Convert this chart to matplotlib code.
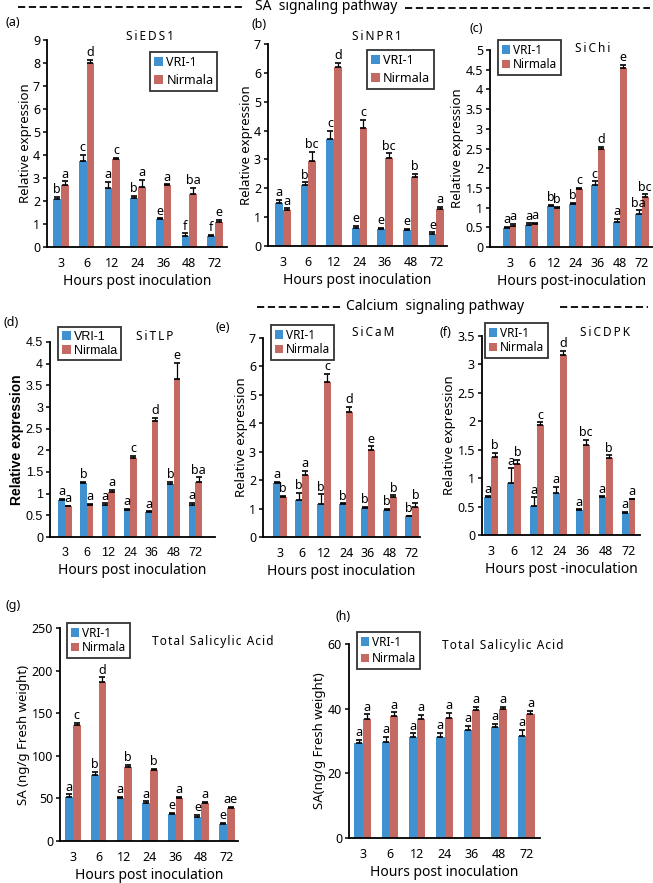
import numpy as np
import matplotlib
matplotlib.use("Agg")
import matplotlib.pyplot as plt
from matplotlib.lines import Line2D

plt.rcParams['font.family'] = ['Noto Sans', 'DejaVu Sans']

W, H = 653, 883
BLUE = '#3f91cf'
RED = '#c46a63'

hours = ['3', '6', '12', '24', '36', '48', '72']

# (a) SiEDS1
eds1_vri = [2.08, 3.75, 2.56, 2.13, 1.22, 0.49, 0.46]
eds1_vri_err = [0.10, 0.25, 0.27, 0.10, 0.02, 0.10, 0.08]
eds1_nir = [2.71, 7.99, 3.82, 2.60, 2.70, 2.31, 1.07]
eds1_nir_err = [0.15, 0.15, 0.07, 0.33, 0.02, 0.25, 0.12]
eds1_vri_let = ['b', 'c', 'a', 'b', 'e', 'f', 'f']
eds1_nir_let = ['a', 'd', 'c', 'a', 'a', 'ba', 'e']

# (b) SiNPR1
npr1_vri = [1.49, 2.11, 3.70, 0.64, 0.60, 0.57, 0.42]
npr1_vri_err = [0.10, 0.10, 0.30, 0.05, 0.02, 0.02, 0.05]
npr1_nir = [1.24, 2.94, 6.20, 4.10, 3.04, 2.40, 1.28]
npr1_nir_err = [0.07, 0.33, 0.15, 0.27, 0.17, 0.10, 0.07]
npr1_vri_let = ['a', 'b', 'c', 'e', 'e', 'e', 'e']
npr1_nir_let = ['a', 'bc', 'd', 'c', 'bc', 'b', 'a']

# (c) SiChi
chi_vri = [0.48, 0.57, 1.04, 1.08, 1.57, 0.64, 0.85]
chi_vri_err = [0.03, 0.03, 0.03, 0.04, 0.10, 0.07, 0.08]
chi_nir = [0.53, 0.59, 1.00, 1.48, 2.50, 4.55, 1.27]
chi_nir_err = [0.06, 0.03, 0.02, 0.02, 0.05, 0.07, 0.07]
chi_vri_let = ['a', 'a', 'b', 'b', 'c', 'a', 'ba']
chi_nir_let = ['a', 'a', 'b', 'c', 'd', 'e', 'bc']

# (d) SiTLP
tlp_vri = [0.86, 1.25, 0.75, 0.63, 0.58, 1.22, 0.75]
tlp_vri_err = [0.02, 0.02, 0.03, 0.02, 0.01, 0.05, 0.04]
tlp_nir = [0.71, 0.75, 1.04, 1.82, 2.68, 3.65, 1.28]
tlp_nir_err = [0.01, 0.02, 0.05, 0.06, 0.07, 0.37, 0.10]
tlp_vri_let = ['a', 'b', 'a', 'a', 'a', 'b', 'a']
tlp_nir_let = ['a', 'a', 'a', 'c', 'd', 'e', 'ba']

# (e) SiCaM
cam_vri = [1.90, 1.29, 1.15, 1.15, 1.03, 0.94, 0.73]
cam_vri_err = [0.05, 0.26, 0.35, 0.03, 0.02, 0.04, 0.02]
cam_nir = [1.41, 2.19, 5.45, 4.40, 3.07, 1.41, 1.06]
cam_nir_err = [0.04, 0.13, 0.28, 0.17, 0.12, 0.06, 0.15]
cam_vri_let = ['a', 'b', 'b', 'b', 'b', 'b', 'b']
cam_nir_let = ['b', 'a', 'c', 'd', 'e', 'b', 'b']

# (f) SiCDPK
cdpk_vri = [0.66, 0.92, 0.51, 0.73, 0.44, 0.66, 0.39]
cdpk_vri_err = [0.02, 0.25, 0.15, 0.12, 0.01, 0.02, 0.02]
cdpk_nir = [1.37, 1.25, 1.93, 3.16, 1.59, 1.35, 0.63]
cdpk_nir_err = [0.07, 0.07, 0.05, 0.08, 0.08, 0.05, 0.01]
cdpk_vri_let = ['a', 'a', 'a', 'a', 'a', 'a', 'a']
cdpk_nir_let = ['b', 'b', 'c', 'd', 'bc', 'b', 'a']

# (g) total SA, ng/g
sa1_vri = [51.8, 78.0, 50.0, 44.7, 31.4, 28.3, 19.6]
sa1_vri_err = [3, 3, 2, 2, 2, 2, 2]
sa1_nir = [136.0, 187.0, 87.0, 83.0, 50.6, 44.7, 39.0]
sa1_nir_err = [3, 5, 2, 2, 1, 1, 1]
sa1_vri_let = ['a', 'b', 'a', 'a', 'e', 'e', 'e']
sa1_nir_let = ['c', 'd', 'b', 'b', 'a', 'a', 'ae']

# (h) total SA, ng/g
sa2_vri = [29.3, 29.7, 31.1, 31.3, 33.3, 34.2, 31.7]
sa2_vri_err = [1.0, 1.5, 1.3, 1.3, 1.3, 1.0, 1.8]
sa2_nir = [36.7, 37.6, 36.8, 37.2, 39.5, 39.9, 38.3]
sa2_nir_err = [1.5, 1.3, 1.2, 1.5, 1.0, 0.7, 1.0]
sa2_vri_let = ['a'] * 7
sa2_nir_let = ['a'] * 7

fig = plt.figure(figsize=(W / 100, H / 100), dpi=100)


def px_axes(left, top, right, bottom):
    return fig.add_axes([left / W, 1 - bottom / H, (right - left) / W, (bottom - top) / H])


def panel(box, xlim, ylim, yticks, ytl, vri, vri_e, nir, nir_e, vl, nl,
          ylabel, xlabel, leg_xy, leg_fs=9, leg_sp=0.15, tick_font=None, ylab_kw=None):
    ax = px_axes(*box)
    x = np.arange(len(hours))
    w = 0.3
    ax.bar(x - w / 2, vri, w, color=BLUE, label='VRI-1', zorder=2)
    ax.bar(x + w / 2, nir, w, color=RED, label='Nirmala', zorder=2)
    ax.errorbar(x - w / 2, vri, yerr=[np.zeros(7), vri_e], fmt='none',
                ecolor='black', elinewidth=0.9, capsize=2.5, capthick=1.2, zorder=3)
    ax.errorbar(x + w / 2, nir, yerr=[np.zeros(7), nir_e], fmt='none',
                ecolor='black', elinewidth=0.9, capsize=2.5, capthick=1.2, zorder=3)
    for i in range(7):
        ax.annotate(vl[i], (x[i] - w / 2, vri[i] + vri_e[i]), xytext=(0, 0.5),
                    textcoords='offset points', ha='center', va='bottom', fontsize=9)
        ax.annotate(nl[i], (x[i] + w / 2, nir[i] + nir_e[i]), xytext=(0, 0.5),
                    textcoords='offset points', ha='center', va='bottom', fontsize=9)
    ax.set_xlim(*xlim)
    ax.set_ylim(*ylim)
    ax.set_yticks(yticks)
    ax.set_yticklabels(ytl)
    ax.set_xticks(x)
    ax.set_xticklabels(hours)
    for s in ['top', 'right']:
        ax.spines[s].set_visible(False)
    for s in ['left', 'bottom']:
        ax.spines[s].set_linewidth(1.3)
    ax.tick_params(axis='x', length=0, pad=7, labelsize=9)
    ax.tick_params(axis='y', length=3, width=1.1, pad=2, labelsize=9)
    if tick_font:
        for t in ax.get_yticklabels() + ax.get_xticklabels():
            t.set_fontfamily(tick_font)
    ylab = {'fontsize': 9.5}
    ylab.update(ylab_kw or {})
    ax.set_ylabel(ylabel, labelpad=1, **ylab)
    ax.set_xlabel(xlabel, fontsize=10, labelpad=3)
    leg = ax.legend(loc='upper left', bbox_to_anchor=(leg_xy[0] / W, 1 - leg_xy[1] / H),
                    bbox_transform=fig.transFigure, borderaxespad=0,
                    handlelength=0.7, handleheight=0.7, handletextpad=0.3,
                    labelspacing=leg_sp, borderpad=0.3, fancybox=False,
                    prop={'family': tick_font or 'Noto Sans', 'size': leg_fs})
    leg.get_frame().set_edgecolor('black')
    leg.get_frame().set_linewidth(1.3)
    return ax


def fmt(vals):
    return [('%g' % v) for v in vals]


def spaced(s, gap='\u2009'):
    return gap.join(s)


ax_a = panel((47, 40, 227, 247), (-0.54, 6.47), (0, 9), range(10), fmt(range(10)),
             eds1_vri, eds1_vri_err, eds1_nir, eds1_nir_err, eds1_vri_let, eds1_nir_let,
             'Relative expression', 'Hours post inoculation', (150, 52), leg_sp=0.4)
ax_b = panel((268, 44, 447, 246), (-0.58, 6.42), (0, 7), range(8), fmt(range(8)),
             npr1_vri, npr1_vri_err, npr1_nir, npr1_nir_err, npr1_vri_let, npr1_nir_let,
             'Relative expression', 'Hours post inoculation', (367, 50), leg_sp=0.4)
yt = np.arange(0, 5.01, 0.5)
ax_c = panel((490, 50, 653, 247), (-0.9, 6.5), (0, 5), yt, fmt(yt),
             chi_vri, chi_vri_err, chi_nir, chi_nir_err, chi_vri_let, chi_nir_let,
             'Relative expression', 'Hours post-inoculation', (498, 40), leg_fs=8.5)
yt = np.arange(0, 4.51, 0.5)
ax_d = panel((50, 342, 215, 537), (-0.69, 6.9), (0, 4.5), yt, fmt(yt),
             tlp_vri, tlp_vri_err, tlp_nir, tlp_nir_err, tlp_vri_let, tlp_nir_let,
             'Relative expression', 'Hours post inoculation', (58, 327), leg_fs=9,
             tick_font='Liberation Sans',
             ylab_kw={'fontweight': 'bold', 'fontfamily': 'Liberation Sans', 'fontsize': 10})
ax_e = panel((263, 338, 420, 537), (-0.77, 6.36), (0, 7), range(8), fmt(range(8)),
             cam_vri, cam_vri_err, cam_nir, cam_nir_err, cam_vri_let, cam_nir_let,
             'Relative expression', 'Hours post inoculation', (271, 325), leg_fs=8.5)
yt = np.arange(0, 3.51, 0.5)
ax_f = panel((482, 336, 640, 535), (-0.4, 6.5), (0, 3.5), yt, fmt(yt),
             cdpk_vri, cdpk_vri_err, cdpk_nir, cdpk_nir_err, cdpk_vri_let, cdpk_nir_let,
             'Relative expression', 'Hours post -inoculation', (485, 323), leg_fs=8.5)
ax_g = panel((60, 628, 238, 841), (-0.5, 6.43), (0, 250), range(0, 251, 50),
             fmt(range(0, 251, 50)),
             sa1_vri, sa1_vri_err, sa1_nir, sa1_nir_err, sa1_vri_let, sa1_nir_let,
             'SA (ng/g Fresh weight)', 'Hours post inoculation', (67, 623), leg_fs=8.5)
ax_h = panel((349, 644, 540, 838), (-0.5, 6.5), (0, 60), range(0, 61, 20),
             fmt(range(0, 61, 20)),
             sa2_vri, sa2_vri_err, sa2_nir, sa2_nir_err, sa2_vri_let, sa2_nir_let,
             'SA(ng/g Fresh weight)', 'Hours post inoculation', (357, 632), leg_fs=8.5,
             leg_sp=0.3)

# panel titles and letters (figure pixel coords)
def ftext(x, y, s, **kw):
    fig.text(x / W, 1 - y / H, s, **kw)


ftext(150, 37, spaced('SiEDS1'), ha='center', va='center', fontsize=8.5)
ftext(377, 37, spaced('SiNPR1'), ha='center', va='center', fontsize=8.5)
ftext(593, 48, spaced('SiChi'), ha='center', va='center', fontsize=8.5)
ftext(155, 337, spaced('SiTLP'), ha='center', va='center', fontsize=8.5)
ftext(373, 333, spaced('SiCaM'), ha='center', va='center', fontsize=8.5)
ftext(605, 333, spaced('SiCDPK'), ha='center', va='center', fontsize=8.5)
ftext(152, 642, spaced('Total Salicylic Acid', '\u200a'), ha='left', va='center', fontsize=8.5)
ftext(442, 646, spaced('Total Salicylic Acid', '\u200a'), ha='left', va='center', fontsize=8.5)

for lab, x, y in [('(a)', 5, 22), ('(b)', 252, 25), ('(c)', 470, 29), ('(d)', 3, 323),
                  ('(e)', 215, 327), ('(f)', 440, 332), ('(g)', 5, 605), ('(h)', 335, 617)]:
    ftext(x, y, lab, ha='left', va='center', fontsize=9)

# section headers with dashed rules
def dash(x0, x1, y):
    fig.add_artist(Line2D([x0 / W, x1 / W], [1 - y / H, 1 - y / H], transform=fig.transFigure,
                          color='black', lw=1.3, dashes=(4, 2)))


dash(18, 245, 7)
ftext(255, 6, 'SA  signaling pathway', ha='left', va='center', fontsize=10)
dash(405, 650, 8)
dash(257, 343, 307)
ftext(346, 306, 'Calcium  signaling pathway', ha='left', va='center', fontsize=10)
dash(560, 648, 307)

fig.savefig('out.png', dpi=100)
